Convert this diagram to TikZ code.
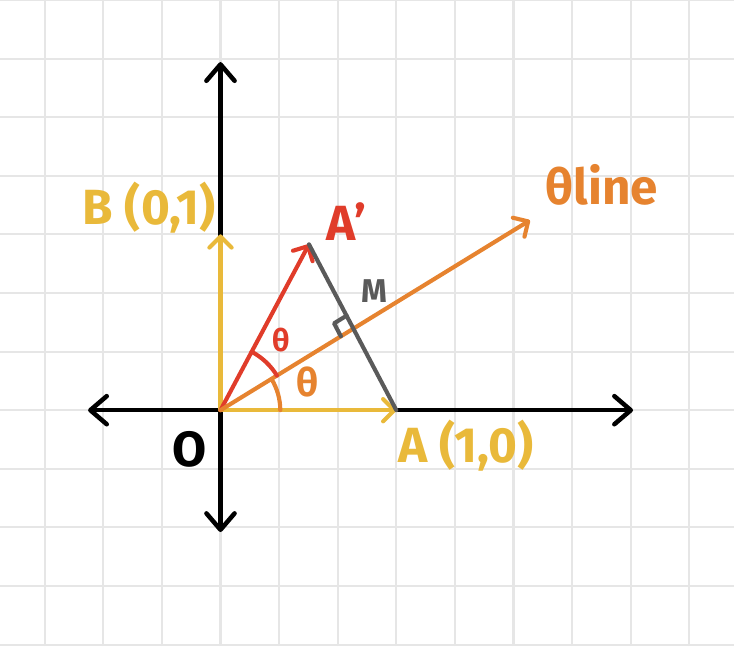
\documentclass[tikz,border=0pt]{standalone}
\usepackage{fontspec}
\setmainfont{Fira Sans}
\usetikzlibrary{arrows.meta,calc}

\definecolor{penyellow}{HTML}{E9B93A}
\definecolor{penorange}{HTML}{E6832F}
\definecolor{penred}{HTML}{E03C2A}
\definecolor{pengray}{HTML}{5A5A5A}
\definecolor{paper}{HTML}{E6E6E6}

\begin{document}
\begin{tikzpicture}[
  every node/.style={font=\fontsize{24}{28}\selectfont\bfseries},
  gridline/.style={draw=paper,line width=1pt},
  axis/.style={line width=2.2pt,line cap=round,
               {Straight Barb[round,length=2.8mm,width=4.8mm]}-{Straight Barb[round,length=2.8mm,width=4.8mm]}},
  pen/.style={line width=2pt,line cap=round},
  vec/.style={pen,-{Straight Barb[round,length=1.9mm,width=3.8mm]}},
  small/.style={font=\fontsize{16}{18}\selectfont\bfseries}
]
\useasboundingbox (-3.763,-4.03) rectangle (8.763,7.0);
\draw[gridline] (-3.763,-4.03) grid (8.763,7.0);

\coordinate (O)  at (0,0);
\coordinate (A)  at (3,0);
\coordinate (B)  at (0,3);
\coordinate (Ap) at (1.51,2.83);
\coordinate (T)  at (5.28,3.24);
\coordinate (XL) at (-2.26,0);
\coordinate (XR) at (7.04,0);
\coordinate (YB) at (0,-2.08);
\coordinate (YT) at (0,5.94);

% axes
\draw[axis] (XL) -- (XR);
\draw[axis] (YB) -- (YT);

% unit vectors
\draw[vec,draw=penyellow] (O) -- (A);
\draw[vec,draw=penyellow] (O) -- (B);

% reflected point and the theta line
\draw[vec,draw=penred] (O) -- (Ap);
\draw[vec,draw=penorange] (O) -- (T);
\draw[pen,draw=pengray] (Ap) -- (A);

% foot of the perpendicular
\coordinate (M) at (intersection of O--T and Ap--A);
\coordinate (M1) at ($(M)!0.25cm!(Ap)$);
\coordinate (M2) at ($(M)!0.25cm!(O)$);
\draw[pen,draw=pengray,line join=round] (M1) -- ($(M1)+(M2)-(M)$) -- (M2);

% angles
\draw[pen,draw=penred]    (62:1.13) arc[start angle=62,end angle=31.5,radius=1.13];
\draw[pen,draw=penorange] (31.5:1.02) arc[start angle=31.5,end angle=0,radius=1.02];

% labels
\node[text=penyellow] (lB)  at (-1.22,3.45) {B (0,1)};
\node[text=penyellow] (lA)  at (4.19,-0.6)  {A (1,0)};
\node[text=black]     (lO)  at (-0.52,-0.67) {O};
\node[text=penred]    (lAp) at (2.15,3.22)  {A’};
\node[text=pengray,small] (lM) at (2.62,2.03) {M};
\node[text=penred,font=\fontsize{15}{18}\selectfont\bfseries] (lt1) at (1.03,1.19) {θ};
\node[text=penorange,font=\fontsize{19}{22}\selectfont\bfseries] (lt2) at (1.48,0.48) {θ};
\node[text=penorange] (lT)  at (6.51,3.84)  {θline};
\end{tikzpicture}
\end{document}
